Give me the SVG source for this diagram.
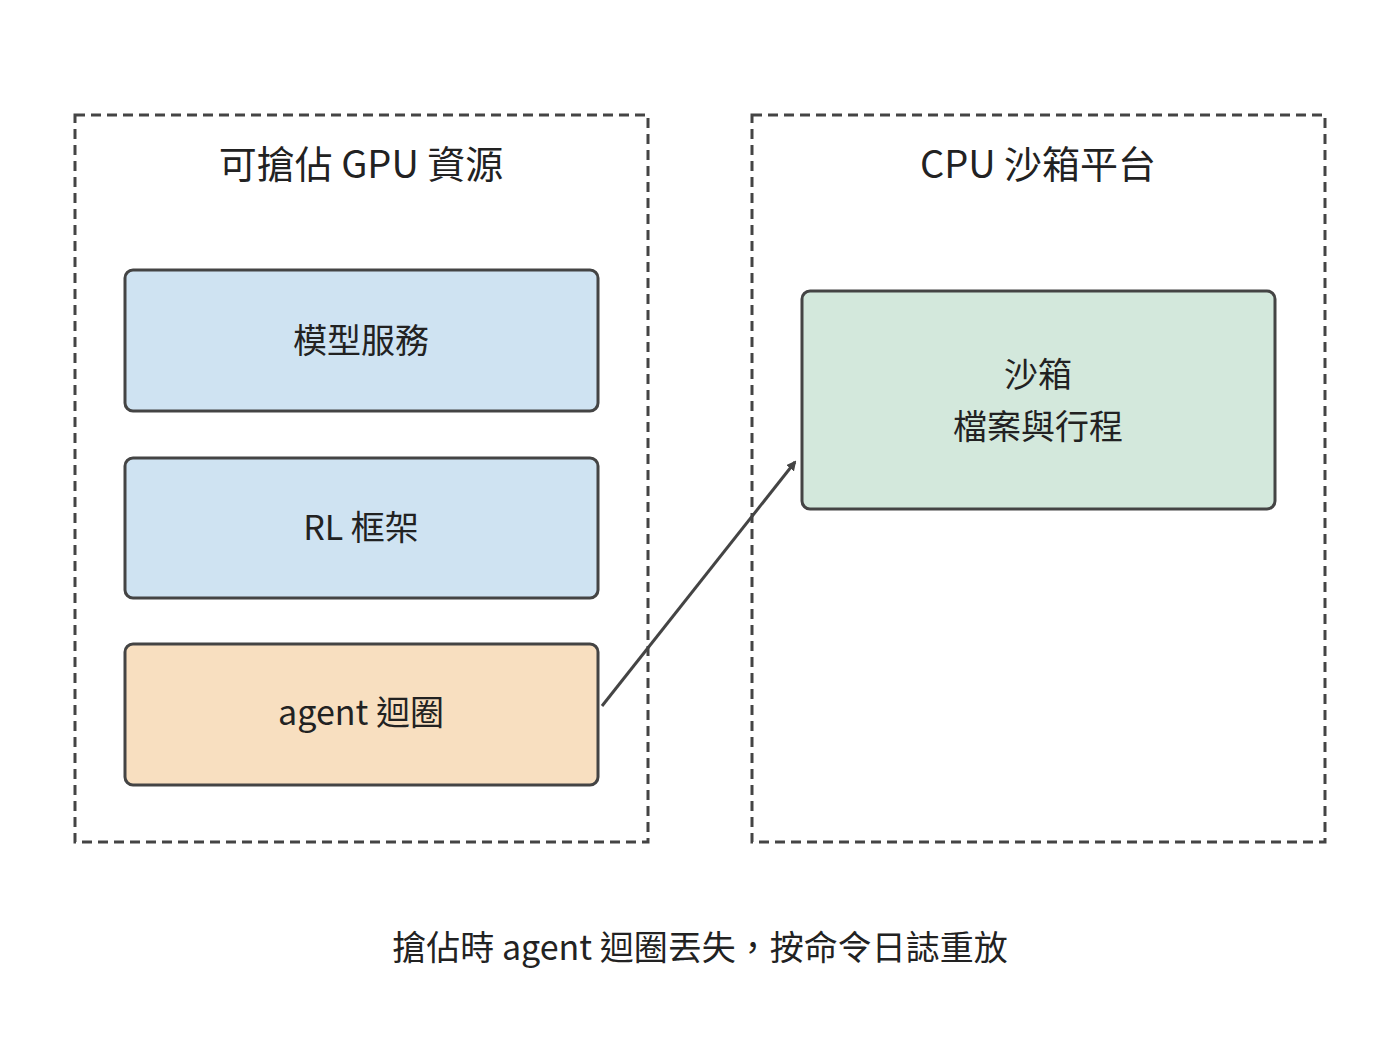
<svg xmlns="http://www.w3.org/2000/svg" width="1400" height="1056" viewBox="0 0 1400 1056">
<style>
.c{fill:none;stroke:#444;stroke-width:3;stroke-dasharray:10 6}
.n{stroke:#444;stroke-width:3}
text{font-family:"Noto Sans CJK TC","Noto Sans",sans-serif;fill:#222;text-anchor:middle}
.t{font-size:38px}
.l{font-size:34px}
</style>
<defs><marker id="a" markerWidth="10" markerHeight="10" refX="8" refY="5" orient="auto" markerUnits="userSpaceOnUse" viewBox="0 0 10 10"><path d="M0,0L10,5L0,10z" fill="#444"/></marker></defs>
<rect width="1400" height="1056" fill="#fff"/>
<g id="gpu"><rect class="c" x="75" y="115" width="573" height="727"/><text class="t" x="361" y="178">可搶佔 GPU 資源</text></g>
<g id="cpu"><rect class="c" x="752" y="115" width="573" height="727"/><text class="t" x="1038" y="178">CPU 沙箱平台</text></g>
<g id="model"><rect class="n" x="125" y="270" width="473" height="141" rx="8" fill="#cfe3f2"/><text class="l" x="361" y="353">模型服務</text></g>
<g id="rl"><rect class="n" x="125" y="458" width="473" height="140" rx="8" fill="#cfe3f2"/><text class="l" x="361" y="540">RL 框架</text></g>
<g id="agent"><rect class="n" x="125" y="644" width="473" height="141" rx="8" fill="#f8dfc0"/><text class="l" x="361" y="725">agent 迴圈</text></g>
<g id="sandbox"><rect class="n" x="802" y="291" width="473" height="218" rx="8" fill="#d3e8dc"/><text class="l" x="1038" y="387">沙箱</text><text class="l" x="1038" y="439">檔案與行程</text></g>
<g id="edges"><line x1="602" y1="706" x2="795" y2="462" stroke="#444" stroke-width="3" marker-end="url(#a)"/></g>
<text class="l" x="700" y="960">搶佔時 agent 迴圈丟失，按命令日誌重放</text>
</svg>
